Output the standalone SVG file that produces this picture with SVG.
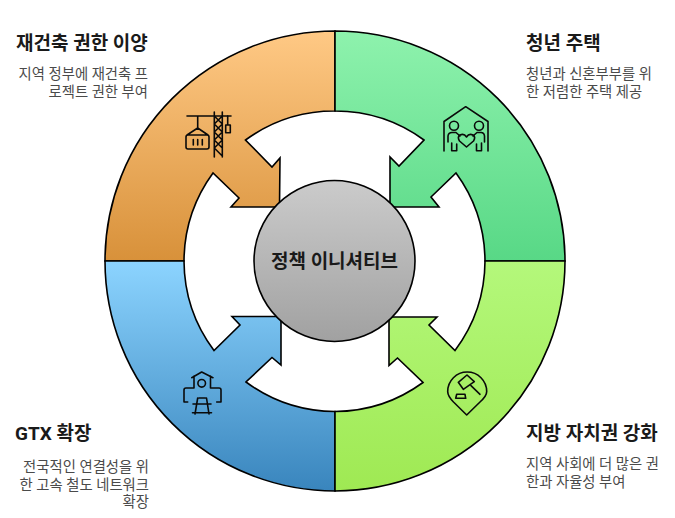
<svg xmlns="http://www.w3.org/2000/svg" width="675" height="518" viewBox="0 0 675 518">
<style>
text{font-family:"Roboto","Noto Sans CJK KR",sans-serif}
.t{font-size:19px;font-weight:700;fill:#1a1a1a}
.d{font-size:14.350px;fill:#4a4a4a}
.e{text-anchor:end}
.s{stroke:#000;stroke-width:1.6;stroke-linejoin:miter}
.i{fill:none;stroke:#0a0a0a;stroke-width:1.6;stroke-linecap:round;stroke-linejoin:round}
</style>
<defs>
<linearGradient id="go" x1="0" y1="0" x2="0" y2="1"><stop offset="0" stop-color="#ffc985"/><stop offset="1" stop-color="#d8913a"/></linearGradient>
<linearGradient id="gg" x1="0" y1="0" x2="0" y2="1"><stop offset="0" stop-color="#8ef2ad"/><stop offset="1" stop-color="#58d886"/></linearGradient>
<linearGradient id="gb" x1="0" y1="0" x2="0" y2="1"><stop offset="0" stop-color="#8cd4ff"/><stop offset="1" stop-color="#3985bd"/></linearGradient>
<linearGradient id="gl" x1="0" y1="0" x2="0" y2="1"><stop offset="0" stop-color="#b4f87b"/><stop offset="1" stop-color="#9fe953"/></linearGradient>
<linearGradient id="gc" x1="0" y1="0" x2="0" y2="1"><stop offset="0" stop-color="#cbcbcb"/><stop offset="1" stop-color="#a1a1a1"/></linearGradient>
</defs>
<g id="connectors"></g>
<g id="node-redevelopment">
<path class="s" fill="url(#go)" d="M335 31A230 230 0 0 0 105 261H184A151 151 0 0 1 213 173L239 198L231 207H279.500L280 158L272 167L245.500 140A151 151 0 0 1 335 111Z"/>
<g class="i"><path d="M187 116H231M197.700 116V128M186 147V137a2 2 0 0 1 2-2h19a2 2 0 0 1 2 2V147a2 2 0 0 1-2 2h-19a2 2 0 0 1-2-2ZM187 135L197.700 128L208 135M193.300 139.500V145M197.700 139.500V145M202.300 139.500V145"/><path d="M214.300 112V157M222.300 112V157M214.300 116L222.300 124L214.300 132L222.300 140L214.300 148L222.300 156M222.300 116L214.300 124L222.300 132L214.300 140L222.300 148"/><path d="M227.700 116V125M225.700 125H230.300V132.700H225.700Z"/></g>
<text class="t" x="16" y="49.500">재건축 권한 이양</text>
<text class="d e" x="148" y="79">지역 정부에 재건축 프</text>
<text class="d e" x="148" y="96.500">로젝트 권한 부여</text>
</g>
<g id="node-housing">
<path class="s" fill="url(#gg)" d="M335 31A230 230 0 0 1 565 261H485A151 151 0 0 0 456 173L431 197L439 207H390L390 157L399 166L424 140A151 151 0 0 0 335 111Z"/>
<g class="i"><path d="M444 151V121.500L465.700 106.700L488 121.500V151"/><circle cx="454" cy="125.700" r="4.500"/><circle cx="479" cy="125.700" r="4.500"/><path d="M448 142V136Q448.500 132.500 452 132.500H456L460 136M451.700 143V150.700H456.700V144M484.500 142V136Q484 132.500 481 132.500H477L473 136M481.500 143V150.700H476.500V144"/><path d="M466.500 147L459.500 141Q457 137 460 135Q464 133 466.500 137Q469 133 473 135Q476 137 473.500 141Z"/></g>
<text class="t" x="526" y="49.500">청년 주택</text>
<text class="d" x="526" y="79">청년과 신혼부부를 위</text>
<text class="d" x="526" y="96.500">한 저렴한 주택 제공</text>
</g>
<g id="node-gtx">
<path class="s" fill="url(#gb)" d="M105 261A230 230 0 0 0 335 491V411.500A151 151 0 0 1 246 382L272 357.500L281 365V316.500H232L240 325L214 350.500A151 151 0 0 1 184 261Z"/>
<g class="i"><path d="M191.700 377.700L201.700 372L213 377.700M194 376V388H186Q184 388 184 390V402H187.700M210.500 376V388H219Q221 388 221 390V402H216.700"/><circle cx="201.700" cy="383.300" r="3.800"/><path d="M197.700 398L195 414M206.500 398L209 414M199 398H205.500M193 404H211M192.500 412.700H211.500"/></g>
<text class="t" x="15" y="440">GTX 확장</text>
<text class="d e" x="149" y="472">전국적인 연결성을 위</text>
<text class="d e" x="149" y="489.500">한 고속 철도 네트워크</text>
<text class="d e" x="149" y="507">확장</text>
</g>
<g id="node-autonomy">
<path class="s" fill="url(#gl)" d="M565 261A230 230 0 0 1 335 491V411.500A151 151 0 0 0 423 382.500L397.500 358L389 365.500V317H437L429 325L455 350.500A151 151 0 0 0 485 261Z"/>
<g class="i"><path d="M466.700 415L453.500 402Q447.700 396 447.700 391.500A19.500 19.500 0 0 1 486.700 391.500Q486.700 396 480 402Z"/><path d="M467 375L474.300 381.700L463.300 389.300L458.300 382.300ZM471 385.700L480 394.300"/><path d="M456.700 394.300H465L465.700 398.300H455.700Z"/></g>
<text class="t" x="526" y="440">지방 자치권 강화</text>
<text class="d" x="526" y="469">지역 사회에 더 많은 권</text>
<text class="d" x="526" y="486.500">한과 자율성 부여</text>
</g>
<g id="node-center">
<circle class="s" cx="334.500" cy="261" r="80.500" fill="url(#gc)"/>
<text x="334.500" y="267.500" text-anchor="middle" style="font-size:19px;font-weight:700;fill:#1a1a1a">정책 이니셔티브</text>
</g>
</svg>
